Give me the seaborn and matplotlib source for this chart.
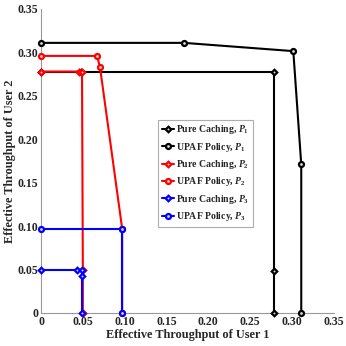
import matplotlib
matplotlib.use("Agg")
import matplotlib.pyplot as plt
import seaborn as sns
import pandas as pd

# data
pc1_x = [0, 0.048, 0.278, 0.278, 0.278]
pc1_y = [0.278, 0.278, 0.278, 0.048, 0]
up1_x = [0, 0.171, 0.3015, 0.311, 0.311]
up1_y = [0.311, 0.311, 0.3015, 0.171, 0]
pc2_x = [0, 0.045, 0.049, 0.05, 0.05]
pc2_y = [0.278, 0.278, 0.278, 0.05, 0]
up2_x = [0, 0.067, 0.0705, 0.097, 0.097]
up2_y = [0.296, 0.296, 0.283, 0.097, 0]
pc3_x = [0, 0.0425, 0.049, 0.049, 0.049]
pc3_y = [0.05, 0.05, 0.05, 0.043, 0]
up3_x = [0, 0.097, 0.097]
up3_y = [0.097, 0.097, 0]

series = [
    ("Pure Caching, $\\mathit{P_1}$", pc1_x, pc1_y, "black", "D"),
    ("UPAF Policy, $\\mathit{P_1}$", up1_x, up1_y, "black", "o"),
    ("Pure Caching, $\\mathit{P_2}$", pc2_x, pc2_y, "red", "D"),
    ("UPAF Policy, $\\mathit{P_2}$", up2_x, up2_y, "red", "o"),
    ("Pure Caching, $\\mathit{P_3}$", pc3_x, pc3_y, "blue", "D"),
    ("UPAF Policy, $\\mathit{P_3}$", up3_x, up3_y, "blue", "o"),
]

sns.set_style("white")
plt.rcParams['font.family'] = ['Liberation Serif', 'DejaVu Serif']
plt.rcParams['font.weight'] = 'bold'
plt.rcParams['mathtext.fontset'] = 'custom'
plt.rcParams['mathtext.it'] = 'Liberation Serif:italic:bold'
plt.rcParams['mathtext.rm'] = 'Liberation Serif:bold'

fig = plt.figure(figsize=(3.46, 3.46), dpi=100)
ax = fig.add_axes([0.1185, 0.0954, 0.8465, 0.8786])

for label, xs, ys, col, mk in series:
    df = pd.DataFrame({"x": xs, "y": ys})
    ms = 3.6 if mk == "o" else 2.8
    sns.lineplot(data=df, x="x", y="y", sort=False, estimator=None, ax=ax,
                 color=col, marker=mk, markersize=ms, markeredgewidth=1.6,
                 markerfacecolor="#dddddd", markeredgecolor=col,
                 linewidth=1.5, label=label, clip_on=False, zorder=3)

ax.set_xlim(0, 0.35)
ax.set_ylim(0, 0.35)
ticks = [0, 0.05, 0.10, 0.15, 0.20, 0.25, 0.30, 0.35]
tlabels = ["0"] + ["%.2f" % t for t in ticks[1:]]
ax.set_xticks(ticks)
ax.set_xticklabels(tlabels)
ax.set_yticks(ticks)
ax.set_yticklabels(tlabels)
ax.tick_params(direction="in", length=2.5, width=0.6, colors="#999999",
               labelsize=8.5, labelcolor="#262626", pad=2)
for lab in ax.get_xticklabels() + ax.get_yticklabels():
    lab.set_fontweight("bold")
ax.set_xlabel("Effective Throughput of User 1", fontsize=8.8, fontweight="bold",
              labelpad=1, color="#262626")
ax.set_ylabel("Effective Throughput of User 2", fontsize=8.8, fontweight="bold",
              labelpad=1, color="#262626")

sns.despine(ax=ax)
for s in ["left", "bottom"]:
    ax.spines[s].set_color("#999999")
    ax.spines[s].set_linewidth(0.8)

leg = ax.legend(loc="upper left", bbox_to_anchor=(0.40, 0.635), fontsize=7.0,
                frameon=True, fancybox=False, edgecolor="#999999",
                handlelength=1.3, handletextpad=0.2, labelspacing=0.45,
                borderpad=0.35, borderaxespad=0)
leg.get_frame().set_linewidth(0.8)
for t in leg.get_texts():
    t.set_fontweight("bold")
ax.grid(False)

fig.savefig("out.png", dpi=100)
